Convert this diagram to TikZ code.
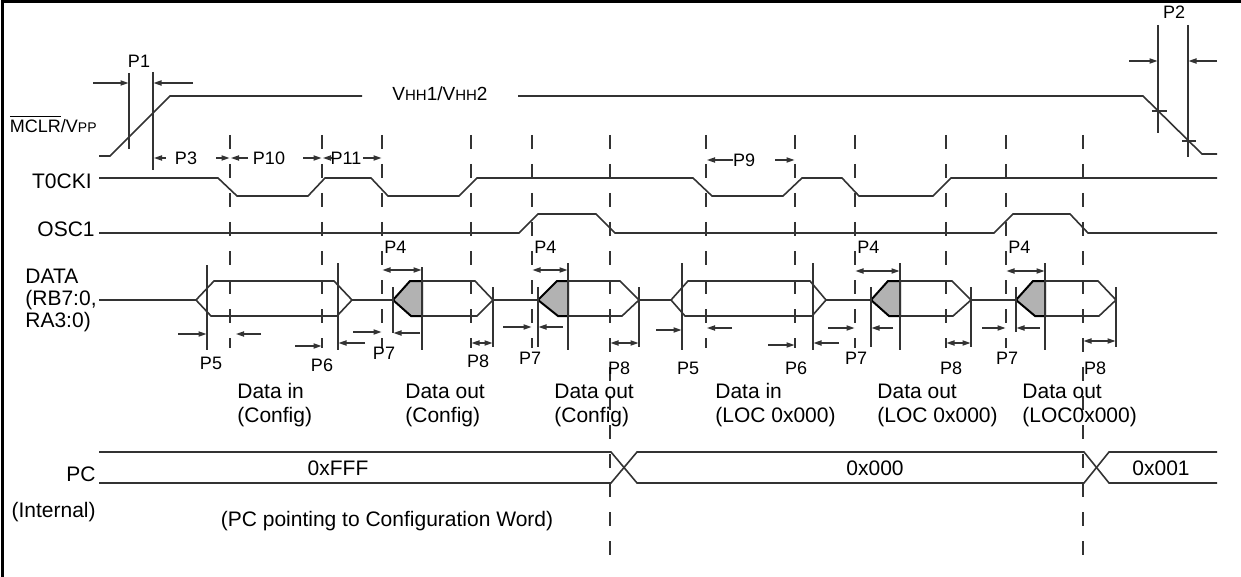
\documentclass[tikz,border=0pt]{standalone}
\usepackage{fontspec}
\setmainfont{Liberation Sans}
\usetikzlibrary{arrows.meta}
\begin{document}
\begin{tikzpicture}[x=0.5pt,y=-0.5pt,
  sig/.style={line width=0.8pt,draw=black!80,line join=miter},
  guide/.style={line width=0.8pt,draw=black!80,dash pattern=on 7pt off 7.5pt},
  mk/.style={line width=0.8pt,draw=black!80},
  ra/.style={line width=0.6pt,draw=black!80,-{Triangle[length=4pt,width=2.6pt]}},
  da/.style={line width=0.6pt,draw=black!80,{Triangle[length=4pt,width=2.6pt]}-{Triangle[length=4pt,width=2.6pt]}},
  lbl/.style={font=\fontsize{10.5}{12}\selectfont,inner sep=0pt},
  pl/.style={font=\fontsize{9}{10}\selectfont,inner sep=0pt},
  grayfill/.style={fill=black!30,draw=black,line width=1pt,line join=miter}]
\useasboundingbox (0,0) rectangle (1241,577);
% frame
\draw[line width=1.5pt] (2.5,577) -- (2.5,1.5) -- (1241,1.5);

% ---- MCLR/VPP ----
\draw[sig] (99,156) -- (110,156) -- (170,96) -- (362,96);
\draw[sig] (518,96) -- (1143,96) -- (1202,154) -- (1217,154);
\node[inner sep=0pt,font=\fontsize{9.5}{11}\selectfont] (vhh) at (440,94) {V{\fontsize{7.5}{9}\selectfont HH}1/V{\fontsize{7.5}{9}\selectfont HH}2};
\node[inner sep=0pt,font=\fontsize{9}{11}\selectfont,anchor=east] (mclr) at (97,124) {$\overline{\mbox{MCLR}}$/V{\fontsize{7}{9}\selectfont PP}};
% P1
\draw[mk] (129,73) -- (129,149);
\draw[mk] (153,72) -- (153,170);
\draw[ra] (93,83) -- (128.5,83);
\draw[ra] (193,83) -- (153.5,83);
\node[pl] (p1) at (139,61) {P1};
% P2
\draw[mk] (1158,25) -- (1158,133);
\draw[mk] (1188,25) -- (1188,157);
\draw[mk] (1152,111) -- (1167,111);
\draw[mk] (1182,141) -- (1196,141);
\draw[ra] (1129,61) -- (1157.5,61);
\draw[ra] (1217,61) -- (1188.5,61);
\node[pl] (p2) at (1174,12) {P2};

% ---- dashed guides ----
\foreach \x in {230,322,382,471,532,706,795,855,946,1006}
  \draw[guide] (\x,135) -- (\x,348);
\foreach \x in {610,1083}
  \draw[guide] (\x,135) -- (\x,558);

% timing labels row
\draw[ra] (166,158) -- (154,158);
\node[pl] (p3) at (186,158) {P3};
\draw[ra] (216,158) -- (229.5,158);
\draw[ra] (248,158) -- (231,158);
\node[pl] (p10) at (269,158) {P10};
\draw[ra] (303,158) -- (321.5,158);
\draw[ra] (332,158) -- (323,158);
\node[pl] (p11) at (346,158) {P11};
\draw[ra] (363,158) -- (381.5,158);
\draw[ra] (733,160) -- (707,160);
\node[pl] (p9) at (744,160) {P9};
\draw[ra] (775,160) -- (794.5,160);

% ---- T0CKI ----
\node[lbl,anchor=east] (t0cki) at (92,181) {T0CKI};
\draw[sig] (99,178) -- (218,178) -- (237,196) -- (308,196) -- (325,178) -- (371,178) -- (388,196) -- (459,196) -- (477,178) -- (693,178) -- (712,196) -- (783,196) -- (802,178) -- (842,178) -- (859,196) -- (933,196) -- (951,178) -- (1217,178);

% ---- OSC1 ----
\node[lbl,anchor=east] (osc1) at (95,229) {OSC1};
\draw[sig] (99,233) -- (519,233) -- (538,214) -- (596,214) -- (615,233) -- (994,233) -- (1013,214) -- (1070,214) -- (1088,233) -- (1217,233);

% ---- DATA ----
\node[anchor=west,align=left,font=\fontsize{10.5}{11}\selectfont,inner sep=0pt] (data) at (25,300) {DATA\\(RB7:0,\\RA3:0)};
\draw[sig] (99,300) -- (196,300);
\draw[sig] (196,300) -- (214,281) -- (334,281) -- (352,300) -- (337,316) -- (211,316) -- cycle;
\draw[sig] (352,300) -- (393,300);
% data out 1
\draw[grayfill] (393,300) -- (410,281) -- (422,281) -- (422,316) -- (411,316) -- cycle;
\draw[sig] (422,281) -- (475,281) -- (493,300) -- (477,316) -- (422,316);
\draw[sig] (493,300) -- (538,300);
% data out 2
\draw[grayfill] (538,300) -- (557,281) -- (568,281) -- (568,316) -- (558,316) -- cycle;
\draw[sig] (568,281) -- (620,281) -- (639,300) -- (622,316) -- (568,316);
\draw[sig] (639,300) -- (671,300);
% data in 2
\draw[sig] (671,300) -- (688,281) -- (810,281) -- (826,300) -- (812,316) -- (685,316) -- cycle;
\draw[sig] (826,300) -- (871,300);
% data out 3
\draw[grayfill] (871,300) -- (888,281) -- (900,281) -- (900,316) -- (889,316) -- cycle;
\draw[sig] (900,281) -- (952,281) -- (971,300) -- (953,316) -- (900,316);
\draw[sig] (971,300) -- (1016,300);
% data out 4
\draw[grayfill] (1016,300) -- (1033,281) -- (1045,281) -- (1045,316) -- (1035,316) -- cycle;
\draw[sig] (1045,281) -- (1098,281) -- (1116,300) -- (1099,316) -- (1045,316);

% marker verticals in data row
\draw[mk] (207,265) -- (207,350);
\draw[mk] (338,263) -- (338,350);
\draw[mk] (393,287) -- (393,333);
\draw[mk] (422,267) -- (422,350);
\draw[mk] (493,287) -- (493,347);
\draw[mk] (538,287) -- (538,347);
\draw[mk] (568,263) -- (568,350);
\draw[mk] (639,287) -- (639,347);
\draw[mk] (682,263) -- (682,350);
\draw[mk] (813,263) -- (813,350);
\draw[mk] (871,287) -- (871,347);
\draw[mk] (900,263) -- (900,350);
\draw[mk] (971,287) -- (971,347);
\draw[mk] (1016,287) -- (1016,332);
\draw[mk] (1045,263) -- (1045,350);
\draw[mk] (1116,287) -- (1116,347);

% arrows in data row
\draw[ra] (178,334) -- (206.5,334);
\draw[ra] (261,334) -- (236,334);
\draw[ra] (295,346) -- (321.5,346);
\draw[ra] (365,343) -- (338.5,343);
\draw[ra] (353,332) -- (381.5,332);
\draw[ra] (420,333) -- (393.5,333);
\draw[da] (382.5,270) -- (421.5,270);
\draw[da] (471.5,343) -- (492.5,343);
\draw[ra] (503,327) -- (531.5,327);
\draw[ra] (563,327) -- (538.5,327);
\draw[da] (532.5,270) -- (567.5,270);
\draw[da] (610.5,343) -- (638.5,343);
\draw[ra] (656,330) -- (681.5,330);
\draw[ra] (732,328) -- (707,328);
\draw[ra] (768,345) -- (794.5,345);
\draw[ra] (839,343) -- (813.5,343);
\draw[ra] (828,328) -- (854.5,328);
\draw[ra] (893,328) -- (871.5,328);
\draw[da] (855.5,271) -- (899.5,271);
\draw[da] (946.5,343) -- (970.5,343);
\draw[ra] (982,328) -- (1005.5,328);
\draw[ra] (1040,328) -- (1016.5,328);
\draw[da] (1006.5,271) -- (1044.5,271);
\draw[da] (1083.5,341) -- (1115.5,341);

% P labels in data row
\node[pl] (p5a) at (211,363) {P5};
\node[pl] (p6a) at (322,365) {P6};
\node[pl] (p7a) at (384,353) {P7};
\node[pl] (p8a) at (478,361) {P8};
\node[pl,anchor=west] (p4a) at (384,247) {P4};
\node[pl,anchor=west] (p4b) at (534,247) {P4};
\node[pl] (p7b) at (530,358) {P7};
\node[pl] (p8b) at (619,368) {P8};
\node[pl] (p5b) at (688,368) {P5};
\node[pl] (p6b) at (796,368) {P6};
\node[pl] (p7c) at (856,358) {P7};
\node[pl,anchor=west] (p4c) at (857,247) {P4};
\node[pl] (p8c) at (951,368) {P8};
\node[pl] (p7d) at (1007,358) {P7};
\node[pl,anchor=west] (p4d) at (1008,247) {P4};
\node[pl] (p8d) at (1095,368) {P8};

% phase labels
\node[lbl,anchor=west,align=left] (din1) at (237,405) {Data in\\(Config)};
\node[lbl,anchor=west,align=left] (dout1) at (405,405) {Data out\\(Config)};
\node[lbl,anchor=west,align=left] (dout2) at (554,405) {Data out\\(Config)};
\node[lbl,anchor=west,align=left] (din2) at (715,405) {Data in\\(LOC 0x000)};
\node[lbl,anchor=west,align=left] (dout3) at (877,405) {Data out\\(LOC 0x000)};
\node[lbl,anchor=west,align=left] (dout4) at (1022,405) {Data out\\(LOC0x000)};

% ---- PC ----
\node[lbl,anchor=east] (pc) at (96,474) {PC};
\node[lbl,anchor=east] (internal) at (96,512) {(Internal)};
\draw[sig] (99,452) -- (611,452) -- (637,483) -- (1084,483) -- (1109,452) -- (1217,452);
\draw[sig] (99,483) -- (611,483) -- (637,452) -- (1084,452) -- (1109,483) -- (1217,483);
\node[lbl] (vfff) at (338,468) {0xFFF};
\node[lbl] (v000) at (875,468) {0x000};
\node[lbl] (v001) at (1161,468) {0x001};
\node[lbl] (pcnote) at (387,521) {(PC pointing to Configuration Word)};
\end{tikzpicture}
\end{document}
